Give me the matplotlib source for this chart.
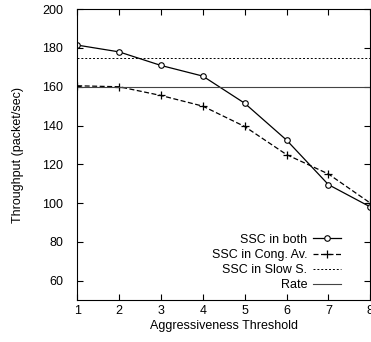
import matplotlib
matplotlib.use("Agg")
import matplotlib.pyplot as plt

plt.rcParams['font.family'] = ['Liberation Sans', 'DejaVu Sans']

threshold = [1, 2, 3, 4, 5, 6, 7, 8]
ssc_both = [181.5, 178, 171, 165.5, 151.5, 132.5, 109.5, 98]
ssc_cong = [160.5, 160, 155.5, 150, 139.5, 125, 115, 100]
ssc_slow = 175
rate = 160

fig = plt.figure(figsize=(3.71, 3.42), dpi=100)
ax = fig.add_axes([0.208, 0.123, 0.79, 0.85])

ax.plot(threshold, ssc_both, color='black', lw=0.9, marker='o', ms=4,
        mfc='white', mec='black', mew=0.8, label='SSC in both')
ax.plot(threshold, ssc_cong, color='black', lw=0.9, ls=(0, (4, 2)), marker='+',
        ms=6, mew=0.9, label='SSC in Cong. Av.')
ax.axhline(ssc_slow, color='black', lw=0.7, ls=(0, (2, 2)), label='SSC in Slow S.')
ax.axhline(rate, color='#444444', lw=0.8, label='Rate')

ax.set_xlim(1, 8)
ax.set_ylim(50, 200)
ax.set_xticks(threshold)
ax.set_yticks(range(60, 201, 20))
ax.tick_params(direction='in', top=True, right=True, labelsize=9, length=4)
ax.tick_params(axis='y', pad=10)
ax.set_xlabel('Aggressiveness Threshold', fontsize=9, labelpad=2)
ax.set_ylabel('Throughput (packet/sec)', fontsize=9, labelpad=13)

ax.legend(loc='lower right', bbox_to_anchor=(0.93, 0.0), frameon=False, markerfirst=False,
          fontsize=9, handlelength=2.2, handletextpad=0.5, labelspacing=0.25,
          borderpad=0.2)

fig.savefig('out.png', dpi=100)
